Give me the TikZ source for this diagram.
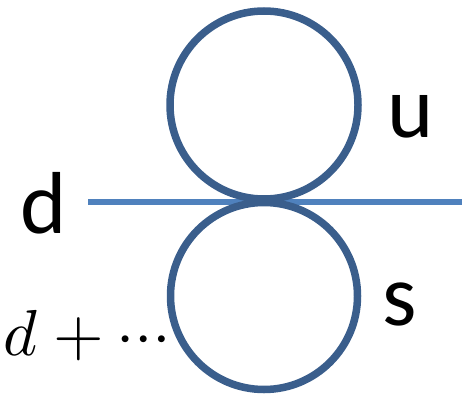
\documentclass[tikz,border=0pt]{standalone}
\usepackage{fontspec}
\usepackage{unicode-math}
\setmainfont{Carlito}
\setmathfont{Latin Modern Math}
\usetikzlibrary{positioning}
\definecolor{loopblue}{HTML}{3A5E8C}
\definecolor{lineblue}{HTML}{4F81BD}

\begin{document}
\begin{tikzpicture}[x=1pt, y=-1pt,
    loop/.style={circle, draw=loopblue, line width=7.5pt, minimum size=#1, inner sep=0pt},
    quark/.style={font=\fontsize{88}{88}\selectfont, anchor=base, inner sep=0pt},
    prop/.style={draw=lineblue, line width=6pt}
]
    \useasboundingbox (0,0) rectangle (462,396);

    % quark line
    \coordinate (din) at (88,202);
    \coordinate (dout) at (466,202);
    \draw[prop] (din) -- (dout);

    % loops
    \node[loop=188pt] (uloop) at (264,105) {};
    \node[loop=187pt] (sloop) at (264,296) {};

    % labels
    \node[quark] (dlab) at (44,233) {d};
    \node[quark] (ulab) at (411,137) {u};
    \node[quark] (slab) at (400,325) {s};
    \node[anchor=base east, inner sep=0pt, font=\fontsize{65}{65}\selectfont]
        (op) at (169,355) {$\bar{s}\,d+\cdots$};
\end{tikzpicture}
\end{document}
